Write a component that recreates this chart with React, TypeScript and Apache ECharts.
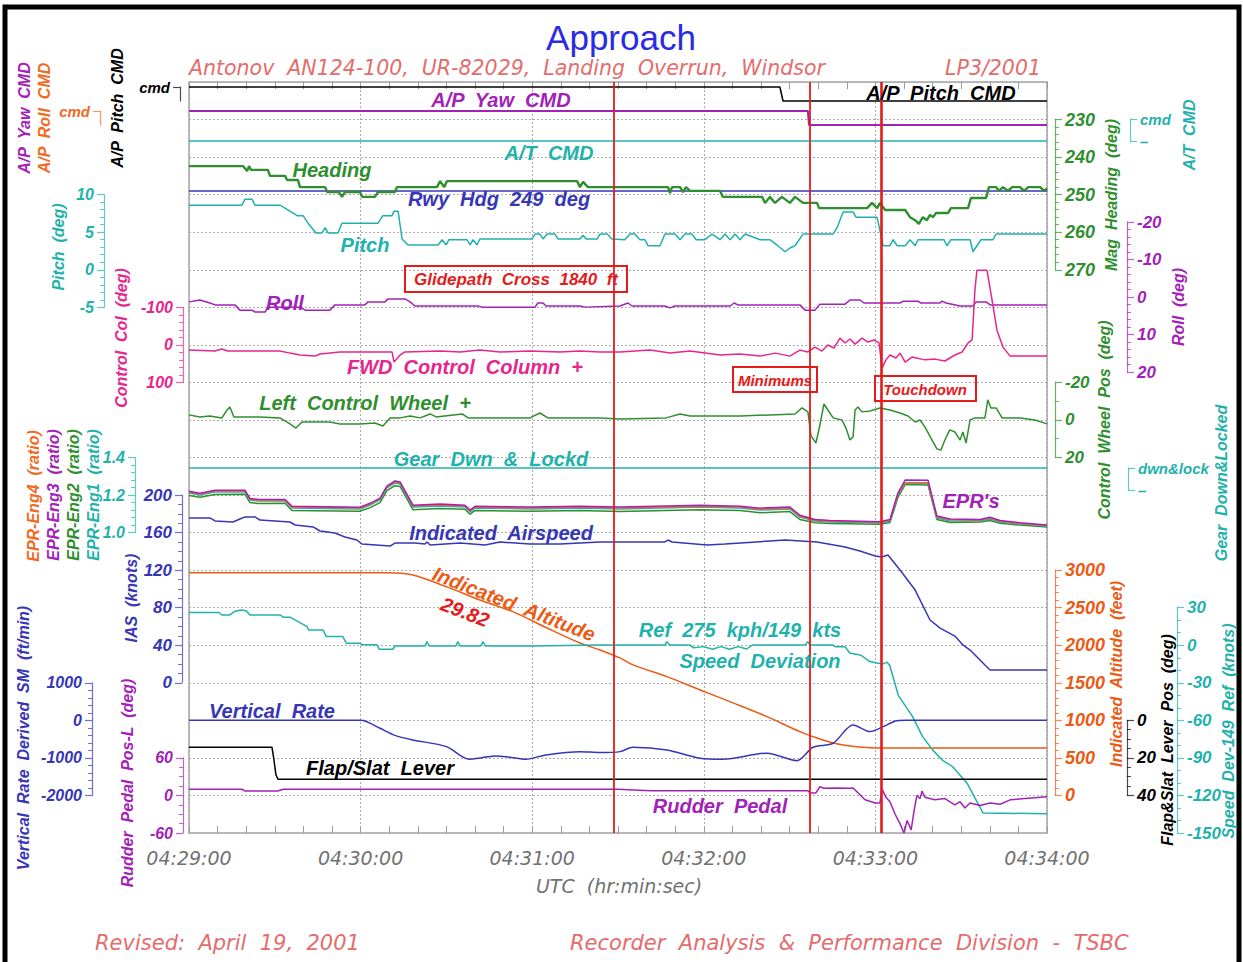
import React, { useEffect, useRef } from 'react';
import * as echarts from 'echarts';

// ---------------- data (time in seconds after 04:29:00) ----------------
const timeLabels = ['04:29:00', '04:30:00', '04:31:00', '04:32:00', '04:33:00', '04:34:00'];
const eventTimes = [148.4, 217.1, 242.0];
const eventNames = ['Glidepath  Cross  1840  ft', 'Minimums', 'Touchdown'];

const apPitchCmd = [[0, 1], [206.6, 1], [207.7, 0], [300, 0]];
const apYawCmd = [[0, 1], [216.4, 1], [216.8, 0], [300, 0]];
const apRollCmd = [[0, 1], [216.4, 1], [216.8, 0], [300, 0]];
const atCmd = [[0, 0], [300, 0]];
const rwyHdg = [[0, 249], [300, 249]];
const gearDown = [[0, 1], [300, 1]];

const heading = [[0, 242.4], [18.9, 242.4], [20.3, 243.7], [21, 242.4], [21.7, 243.4], [27.6, 243.4], [28.3, 245.0], [33.6, 245.0], [34.3, 246.1], [38.1, 246.1], [38.8, 248.0], [47.6, 248.0], [48.3, 249.3], [52.4, 249.3], [53.5, 250.6], [54.5, 249.3], [59.8, 249.3], [60.5, 250.6], [65, 250.6], [66.1, 249.3], [72, 249.3], [72.7, 248.0], [86.7, 248.0], [87.8, 246.4], [89.2, 248.0], [90.2, 246.4], [135.7, 246.4], [136.7, 248.0], [137.8, 246.6], [139.5, 248.0], [167.5, 248.0], [168.2, 249.6], [168.9, 248.0], [171.7, 248.0], [172.7, 249.3], [173.8, 248.0], [175.2, 249.0], [185.7, 249.0], [186.7, 250.6], [200.4, 250.6], [201.4, 252.2], [203.1, 250.6], [204.9, 252.2], [207.3, 250.6], [210.1, 252.2], [211.9, 250.6], [214.7, 252.2], [219.6, 252.2], [220.3, 253.6], [237.1, 253.6], [238.8, 252.2], [240.6, 253.6], [241.6, 252.2], [243.4, 254.1], [250.4, 254.1], [252.1, 256.0], [253.9, 256.8], [255.2, 257.8], [256.6, 256.0], [258, 256.8], [259.1, 255.4], [260.1, 256.0], [261.2, 254.9], [265.4, 254.9], [266.4, 253.6], [272.4, 253.6], [273.4, 250.9], [278.7, 250.9], [279.7, 248.0], [282.2, 248.0], [283.2, 249.0], [284.6, 248.0], [286.4, 249.0], [287.8, 248.0], [290.6, 248.0], [292, 249.0], [293.4, 248.0], [297.6, 248.0], [299, 249.0], [300, 248.3]];

const pitch = [[0, 8.6], [18.5, 8.6], [19.6, 9.4], [22, 9.4], [23.1, 8.6], [31.8, 8.6], [35.3, 7.8], [37.8, 7.2], [39.9, 7.2], [41.6, 6.2], [44.4, 4.9], [46.5, 4.9], [47.6, 5.6], [48.6, 4.9], [52.1, 4.9], [53.5, 6.2], [66.1, 6.2], [67.8, 7.2], [71, 7.2], [71.7, 7.8], [73.1, 7.8], [74.5, 4.1], [76.6, 3.3], [87.1, 3.3], [88.5, 4.0], [89.9, 3.3], [90.9, 4.0], [97.2, 4.0], [98.3, 3.3], [99.3, 4.0], [100.7, 3.3], [101.7, 4.1], [119.9, 4.1], [121, 4.75], [122.7, 4.75], [123.8, 4.1], [125.2, 4.75], [128, 4.75], [129, 4.1], [136.7, 4.1], [137.8, 4.6], [138.8, 4.1], [142.7, 4.1], [143.7, 4.75], [146.2, 4.75], [147.9, 4.1], [152.4, 4.0], [154.2, 4.75], [155.9, 4.75], [157.7, 4.0], [159.4, 4.0], [160.5, 3.2], [164.7, 3.2], [166.4, 4.75], [169.9, 4.75], [171.7, 4.0], [173.4, 4.75], [175.9, 4.75], [177.3, 4.0], [180.4, 4.0], [182.9, 4.75], [185.7, 4.0], [187.4, 4.75], [189.2, 4.0], [190.9, 4.75], [192.7, 4.0], [194.4, 4.75], [199.7, 4.0], [203.1, 4.0], [205.9, 3.2], [208.4, 2.4], [210.1, 2.9], [211.9, 3.2], [214.7, 4.75], [225.2, 4.75], [226.6, 5.6], [228.7, 7.7], [232.2, 7.7], [233.2, 7.0], [240.6, 7.0], [242.7, 3.2], [245.1, 3.2], [246.2, 4.0], [247.6, 3.2], [250.4, 3.2], [252.1, 4.0], [253.9, 3.2], [254.9, 4.0], [264, 4.0], [265, 3.2], [266.4, 4.0], [273.1, 4.0], [274.1, 2.4], [275.5, 3.2], [276.9, 4.0], [281.1, 4.0], [282.2, 4.75], [300, 4.75]];

const roll = [[0, 1.3], [3.8, 0.8], [7.3, 1.6], [9.1, 2.1], [16.1, 2.1], [17.8, 3.5], [22, 3.5], [23.1, 4], [26.6, 4], [27.6, 2.7], [38.8, 2.7], [40.6, 3.5], [49.3, 3.5], [51, 2.1], [61.5, 2.1], [62.6, 1.3], [68.5, 1.3], [69.6, 0.5], [75.5, 0.5], [77.3, 1.3], [79, 2.4], [101, 2.4], [102.4, 2.7], [121, 2.7], [122, 1.6], [123.8, 1.6], [124.8, 2.4], [136.7, 2.4], [138.5, 2.7], [150.7, 2.4], [153.5, 1.6], [154.9, 2.4], [166.4, 2.4], [168.2, 2.9], [169.9, 2.4], [189.2, 2.4], [190.6, 1.6], [191.9, 2.1], [213.6, 2.1], [215.4, 3.5], [218.9, 3.5], [220.6, 1.9], [229.4, 1.9], [231.1, 0.8], [234.6, 0.8], [236, 1.6], [248.6, 1.6], [249.7, 1.1], [254.9, 1.1], [255.9, 1.6], [262.6, 1.6], [263.3, 1.1], [264.7, 1.6], [269.6, 2.4], [274.1, 2.4], [275.2, 1.3], [278.7, 1.3], [280.1, 2.1], [300, 2.1]];

const ctrlColumn = [[0, 14], [9.1, 16.5], [11.5, 11], [13.6, 16.5], [31.8, 16.5], [35.3, 22], [38.8, 27], [44.1, 30], [45.8, 24.5], [52.8, 19], [71, 19], [71.7, 46], [73.8, 27], [75.5, 19], [87.8, 16.5], [94.8, 19], [101.7, 14], [108.7, 19], [119.2, 16.5], [129.7, 19], [136.7, 16.5], [143.7, 19], [150.7, 19], [161.2, 14], [168.2, 22], [175.2, 16.5], [185.7, 27], [192.7, 24.5], [199.7, 30], [204.9, 22], [210.1, 30], [213.6, 14], [216.4, 19], [218.9, 6], [221.3, 16.5], [223.4, 0.5], [225.5, 8.5], [227.6, -18], [229.4, -5], [231.1, -15.5], [232.9, -2], [235.3, -18], [237.4, -7.5], [239.5, -13], [241.3, -5], [242.3, 62], [243.7, 40], [245.1, 27], [247.2, 35], [248.6, 22], [250.4, 46], [252.8, 32.5], [257.3, 40], [260.8, 38], [264.3, 43], [267.8, 27], [270.3, 19], [272.4, -5], [273.8, -13], [274.8, -146], [275.5, -199], [279, -199], [280.8, -119], [282.5, -39], [284.6, 6], [287.1, 30], [300, 30]];

const ctrlWheel = [[0, -2.7], [3.8, -1.6], [7.3, -2.1], [11.5, -1.1], [13.3, -5.3], [14.3, -6.9], [15.7, -1.6], [24.8, -1.6], [31.8, -1.1], [35.3, 2.1], [37.4, 4.3], [39.5, 1.1], [49.3, 1.1], [52.8, 2.1], [59.8, 2.1], [65, 1.6], [67.8, 3.2], [70.3, -1.1], [73.8, -1.1], [77.3, -2.1], [80.8, -1.1], [84.3, -3.2], [86.4, -1.6], [95.5, -3.2], [97.6, -1.1], [119.2, -1.1], [122.7, -3.7], [125.5, -1.1], [143.7, -1.1], [150.7, -0.5], [166.8, -1.1], [171.7, -3.2], [175.2, -2.1], [192.7, -2.1], [203.1, -2.7], [211.9, -3.2], [214.3, -6.4], [216.4, -4.3], [217.5, 8.5], [219.2, 12.3], [220.6, 2.7], [222, -8.5], [223.4, -5.3], [225.2, -1.1], [228.3, 0], [229.7, 4.3], [231.1, 10.7], [232.2, 9], [232.9, -5.3], [233.9, -6.9], [235.3, -4.3], [238.1, -4.8], [241.6, -6.4], [245.1, -5.3], [248.6, -3.7], [251.4, -2.1], [253.9, 1.1], [255.6, 0], [257.3, 3.7], [259.8, 10.7], [261.5, 15.4], [262.9, 16], [264.3, 10.7], [266, 5.3], [267.8, 6.4], [269.6, 10.7], [270.6, 6.4], [271.7, 12.3], [273.1, 0], [274.8, -1.1], [278.3, -1.1], [279.3, -10.7], [280.4, -6.4], [282.2, -6.4], [284.3, -1.1], [290.6, -1.1], [295.8, 0], [300, 2.1]];

const eprTime = [0, 3.8, 9.1, 19.6, 21.3, 24.1, 33.6, 36, 59.8, 63.3, 66.8, 69.2, 72, 73.8, 78.3, 87.8, 96.5, 98.3, 100, 119.2, 136.7, 150.7, 178.7, 192.7, 199.7, 210.1, 213.6, 218.9, 224.1, 241.6, 245.1, 247.9, 250.4, 258.4, 261.5, 266.1, 276.6, 280.1, 283.6, 290.6, 300];
const eprEng1 = [1.211, 1.200, 1.216, 1.216, 1.174, 1.168, 1.168, 1.131, 1.126, 1.147, 1.174, 1.238, 1.264, 1.259, 1.136, 1.142, 1.136, 1.110, 1.131, 1.126, 1.131, 1.126, 1.136, 1.131, 1.120, 1.126, 1.083, 1.062, 1.056, 1.051, 1.062, 1.200, 1.262, 1.262, 1.078, 1.062, 1.062, 1.072, 1.056, 1.046, 1.035];
const eprEng2 = [1.198, 1.188, 1.203, 1.204, 1.160, 1.155, 1.156, 1.118, 1.114, 1.133, 1.160, 1.224, 1.250, 1.246, 1.122, 1.128, 1.124, 1.098, 1.118, 1.114, 1.118, 1.112, 1.122, 1.118, 1.106, 1.112, 1.070, 1.052, 1.048, 1.044, 1.054, 1.188, 1.256, 1.254, 1.070, 1.054, 1.056, 1.064, 1.050, 1.040, 1.030];
const eprEng3 = [1.220, 1.210, 1.226, 1.225, 1.182, 1.177, 1.176, 1.140, 1.135, 1.156, 1.184, 1.248, 1.275, 1.270, 1.146, 1.152, 1.146, 1.120, 1.140, 1.136, 1.141, 1.136, 1.146, 1.140, 1.130, 1.136, 1.092, 1.070, 1.064, 1.058, 1.070, 1.212, 1.280, 1.279, 1.088, 1.072, 1.070, 1.082, 1.064, 1.052, 1.040];
const eprEng4 = [1.216, 1.206, 1.222, 1.221, 1.178, 1.172, 1.173, 1.136, 1.131, 1.152, 1.180, 1.244, 1.270, 1.266, 1.142, 1.147, 1.142, 1.115, 1.136, 1.131, 1.137, 1.131, 1.141, 1.136, 1.125, 1.131, 1.088, 1.066, 1.060, 1.055, 1.066, 1.205, 1.266, 1.266, 1.083, 1.068, 1.066, 1.078, 1.060, 1.049, 1.038];

const airspeed = [[0, 175.6], [7.3, 175.6], [9.1, 172.4], [15.4, 171.3], [17.8, 174.5], [19.6, 176.7], [23.1, 176.7], [24.8, 173.4], [35.3, 171.3], [37.1, 168.1], [43.4, 166], [45.8, 161.7], [51, 159.5], [54.5, 155.3], [58.7, 152.1], [60.5, 147.8], [70.3, 145.7], [72, 148.9], [79, 148.9], [82.5, 147.8], [83.2, 150], [84.3, 146.8], [94.8, 148.9], [103.5, 146.8], [108.7, 150], [119.2, 147.8], [129.7, 147.8], [143.7, 150], [166.4, 150], [167.5, 152.1], [168.9, 150], [181.1, 146.8], [187.4, 147.8], [208.4, 152.1], [219.6, 150], [229.4, 144.7], [234.6, 140.4], [239.9, 135], [242.3, 134], [244.4, 136.1], [248.6, 120.1], [253.9, 98.8], [259.1, 66.9], [262.6, 58.3], [267.8, 49.8], [270.6, 40.3], [273.1, 34.9], [278.3, 18.9], [280.1, 13.6], [300, 13.6]];

const altitude = [[0, 2967], [40, 2967], [69.2, 2967], [78.3, 2936], [90, 2780], [101.7, 2603], [113.2, 2447], [125.2, 2230], [136.7, 2030], [143.7, 1937], [150.7, 1831], [155.2, 1738], [167.1, 1582], [178.7, 1405], [190.2, 1232], [202.1, 1049], [213.6, 850], [219.6, 766], [225.2, 699], [231.1, 659], [241.6, 632], [300, 632]];

const speedDev = [[0, 26.2], [10.5, 26.2], [11.5, 24.2], [14.3, 24.2], [16, 27], [18, 28.2], [20, 27.5], [21.3, 24.2], [31.8, 24.2], [33, 22.4], [35.3, 22.4], [41.3, 14.9], [41.8, 12.2], [46.9, 12.2], [48, 6.9], [53.8, 6.9], [55, 1.6], [59.8, 1.6], [60.5, 0.3], [65.7, 0.3], [66.5, -3.2], [71.3, -3.2], [72, -0.6], [82.5, -0.6], [83.2, 2.9], [84, -0.6], [93.3, -0.6], [94, 2.9], [94.8, -0.6], [102, -0.6], [102.8, 2.9], [103.6, -0.6], [120, -0.6], [143.7, 0.2], [166.4, 0.2], [167.1, 2.9], [168, 0.2], [175, 0.2], [176.5, -2], [180, -1.1], [183, -3.2], [186, -1.1], [189, -3.2], [192, -1.1], [195, -3], [197, 0.2], [215.5, 0.2], [216.3, 2.9], [217.2, 0.2], [225, 0.2], [226, -1.1], [229.4, -1.1], [231, -6.2], [235, -8], [238, -13], [240.6, -14.2], [242.7, -14.9], [244, -13.5], [245, -16], [248, -40], [253, -57], [256.5, -73], [260, -83.6], [263.5, -92], [267, -97], [272, -110], [277.6, -134], [300, -134.6]];

const vertRate = [[0, 0], [59.8, 0], [62, -30], [66.8, -211], [72, -400], [78.3, -522], [90, -700], [98, -1035], [102, -1000], [107.3, -947], [112, -980], [117.8, -1035], [124.8, -921], [136.7, -833], [143.7, -859], [150.7, -833], [155.2, -716], [167.1, -788], [178.7, -1009], [186.7, -1035], [202.1, -876], [212.5, -1073], [218.2, -716], [225.2, -610], [232.2, -122], [238.1, -300], [242.7, -168], [247.6, -8], [251, 0], [300, 0]];

const flapLever = [[0, 14.3], [29, 14.3], [29.6, 20], [30.4, 29], [31.1, 31.4], [300, 31.4]];

const rudderPedal = [[0, 9.9], [18.5, 9.9], [19.5, 7.2], [31, 7.2], [33, 9.9], [150, 9.9], [161.5, 7.7], [216.4, 7.7], [217.1, 4], [219.2, 4], [220.6, 14], [222, 11.5], [226, 12], [231.1, 11.5], [232.2, 12], [236.4, -7], [239.9, -12], [241.6, -12], [242.3, 10], [243.7, -3], [245.1, -10], [246.9, -30], [248.6, -45], [250, -60], [251.1, -40], [252.5, -55], [253.5, -25], [254.5, 0], [255.6, -5], [256.3, 7], [257.3, -3], [260.8, -7], [264.3, -5], [267.8, -15], [269.6, -10], [271.3, -20], [273.1, -12], [276.6, -16], [280.1, -12], [283.6, -14], [287.1, -7], [292.3, -5], [300, -2]];

// ---------------- styles ----------------
const SANS = '"Liberation Sans", Arial, Helvetica, sans-serif';
const THIN = '"DejaVu Sans", "Liberation Sans", sans-serif';
const C = {
  purple: '#a222b8', orange: '#f26a22', alt: '#ec5a14', cyan: '#1fb2ad', green: '#2f8f2f',
  blue: '#3636b6', pink: '#e6268e', red: '#e51b1b', black: '#000000', salmon: '#e46c6c', gray: '#707070',
};
const PL = 189, PR = 1047, PT = 82, PB = 833, PW = PR - PL, BAND = (PB - PT) / 20;
const bandTop = (k: number) => PB - BAND * k;

function buildOption() {
  const grid: any[] = [];
  const xAxis: any[] = [];
  const yAxis: any[] = [];
  const series: any[] = [];

  const tickGray = '#9c9c9c';
  grid.push({ left: PL, top: PT, width: PW, height: PB - PT, show: true, borderColor: '#a4a4a4', borderWidth: 1.5, backgroundColor: 'rgba(0,0,0,0)' });
  const xTick = { show: true, inside: true, length: 7, lineStyle: { color: tickGray, width: 1 } };
  const xMinor = { show: true, splitNumber: 6, length: 7, lineStyle: { color: tickGray, width: 1 } };
  xAxis.push({
    gridIndex: 0, type: 'value', position: 'bottom', min: 0, max: 300, interval: 60,
    axisLine: { show: false, onZero: false }, axisTick: xTick, minorTick: xMinor,
    splitLine: { show: true, lineStyle: { color: '#ababab', width: 1, type: [2, 2] } },
    axisLabel: {
      show: true, margin: 15, color: C.gray, fontSize: 19, fontStyle: 'italic', fontWeight: 300, fontFamily: THIN,
      formatter: (v: number) => timeLabels[Math.round(v / 60)] || '',
    },
  });
  xAxis.push({
    gridIndex: 0, type: 'value', position: 'top', min: 0, max: 300, interval: 60,
    axisLine: { show: false, onZero: false }, axisTick: xTick, minorTick: xMinor, splitLine: { show: false }, axisLabel: { show: false },
  });
  yAxis.push({
    gridIndex: 0, type: 'value', min: 0, max: 20, interval: 1,
    axisLine: { show: false, onZero: false }, axisTick: { show: false }, axisLabel: { show: false },
    splitLine: { show: true, lineStyle: { color: '#ababab', width: 1, type: [2, 2] } },
  });

  function panel(p: any) {
    const gi = grid.length;
    grid.push({ left: PL, width: PW, top: p.top, height: p.height, show: false });
    const xi = xAxis.length;
    xAxis.push({ gridIndex: gi, type: 'value', min: 0, max: 300, show: false, axisLine: { onZero: false } });
    const yi = yAxis.length;
    const label: any = {
      show: true, margin: p.margin || 10, color: p.color, fontSize: p.fontSize || 17,
      fontStyle: 'italic', fontWeight: 'bold', fontFamily: SANS,
      formatter: p.fmt || ((v: number) => String(v)),
    };
    yAxis.push({
      gridIndex: gi, type: 'value', position: p.side, offset: p.offset,
      min: p.min, max: p.max, interval: p.interval, inverse: !!p.inverse,
      axisLine: { show: true, onZero: false, lineStyle: { color: p.color, width: 1.2, opacity: 0.7 } },
      axisTick: { show: true, length: 7, lineStyle: { color: p.color, width: 1.2, opacity: 0.7 } },
      minorTick: { show: !!p.minor, splitNumber: p.minor || 5, length: 4, lineStyle: { color: p.color, opacity: 0.7 } },
      splitLine: { show: false },
      axisLabel: label,
    });
    return { xAxisIndex: xi, yAxisIndex: yi };
  }
  const bracket = (top: string) => (v: number) => (v >= 1 ? top : '–');

  const pPitchCmd = panel({ top: 87, height: 14, side: 'left', offset: PL - 180, min: 0, max: 1, interval: 1, color: C.black, fmt: bracket('cmd'), fontSize: 15 });
  const pRollCmd = panel({ top: 111, height: 14, side: 'left', offset: PL - 100, min: 0, max: 1, interval: 1, color: C.orange, fmt: bracket('cmd'), fontSize: 15 });
  const pAtCmd = panel({ top: 119, height: 22, side: 'right', offset: 1130 - PR, min: 0, max: 1, interval: 1, color: C.cyan, fmt: bracket('cmd'), fontSize: 15 });
  const pHdg = panel({ top: bandTop(19), height: BAND * 4, side: 'right', offset: 8, min: 230, max: 270, interval: 10, inverse: true, color: C.green, minor: 5, fontSize: 18 });
  const pPitch = panel({ top: bandTop(17), height: BAND * 3, side: 'left', offset: PL - 104, min: -5, max: 10, interval: 5, color: C.cyan, minor: 5, fontSize: 16 });
  const pRoll = panel({ top: 222, height: 150, side: 'right', offset: 1127 - PR, min: -20, max: 20, interval: 10, inverse: true, color: C.purple, minor: 5, fontSize: 17 });
  const pCol = panel({ top: bandTop(14), height: BAND * 2, side: 'left', offset: PL - 183, min: -100, max: 100, interval: 100, inverse: true, color: C.pink, minor: 5, fontSize: 16 });
  const pWheel = panel({ top: bandTop(12), height: BAND * 2, side: 'right', offset: 8, min: -20, max: 20, interval: 20, inverse: true, color: C.green, minor: 2, fontSize: 17 });
  const pGear = panel({ top: 468, height: 22, side: 'right', offset: 1128 - PR, min: 0, max: 1, interval: 1, color: C.cyan, fmt: bracket('dwn&lock'), fontSize: 15 });
  const pEpr = panel({ top: bandTop(10), height: BAND * 2, side: 'left', offset: PL - 135, min: 1.0, max: 1.4, interval: 0.2, color: C.cyan, minor: 5, fontSize: 16, fmt: (v: number) => v.toFixed(1) });
  const pIas = panel({ top: bandTop(9), height: BAND * 5, side: 'left', offset: PL - 182, min: 0, max: 200, interval: 40, color: C.blue, minor: 4, fontSize: 17 });
  const pAlt = panel({ top: bandTop(7), height: BAND * 6, side: 'right', offset: 8, min: 0, max: 3000, interval: 500, color: C.alt, minor: 5, fontSize: 18 });
  const pSpd = panel({ top: bandTop(6), height: BAND * 6, side: 'right', offset: 1177 - PR, min: -150, max: 30, interval: 30, color: C.cyan, minor: 3, fontSize: 17 });
  const pVr = panel({ top: bandTop(4), height: BAND * 3, side: 'left', offset: PL - 92, min: -2000, max: 1000, interval: 1000, color: C.blue, minor: 5, fontSize: 16 });
  const pFlap = panel({ top: bandTop(3), height: BAND * 2, side: 'right', offset: 1127 - PR, min: 0, max: 40, interval: 20, inverse: true, color: C.black, minor: 4, fontSize: 17 });
  const pRud = panel({ top: bandTop(2), height: BAND * 2, side: 'left', offset: PL - 183, min: -60, max: 60, interval: 60, color: C.purple, minor: 4, fontSize: 16 });

  function line(data: any[], idx: any, color: string, width = 1.5, extra: any = {}) {
    series.push({
      type: 'line', data, ...idx, showSymbol: false, symbol: 'none', clip: false, silent: true,
      lineStyle: { color, width }, itemStyle: { color }, z: 3, ...extra,
    });
  }
  const zip = (t: number[], v: number[]) => t.map((x, i) => [x, v[i]]);

  line(apRollCmd, pRollCmd, C.orange);
  line(apYawCmd, pRollCmd, C.purple, 2);
  line(apPitchCmd, pPitchCmd, C.black);
  line(atCmd, pAtCmd, C.cyan);
  line(rwyHdg, pHdg, C.blue);
  line(heading, pHdg, C.green, 2.4);
  line(pitch, pPitch, C.cyan);
  line(roll, pRoll, C.purple);
  line(ctrlColumn, pCol, C.pink);
  line(ctrlWheel, pWheel, C.green);
  line(gearDown, pGear, C.cyan);
  line(zip(eprTime, eprEng2), pEpr, C.green);
  line(zip(eprTime, eprEng1), pEpr, C.cyan);
  line(zip(eprTime, eprEng4), pEpr, C.orange);
  line(zip(eprTime, eprEng3), pEpr, C.purple);
  line(airspeed, pIas, C.blue);
  line(altitude, pAlt, C.alt, 1.5, { smooth: 0.3 });
  line(speedDev, pSpd, C.cyan);
  line(vertRate, pVr, C.blue, 1.5, { smooth: 0.3 });
  line(flapLever, pFlap, C.black);
  line(rudderPedal, pRud, C.purple);

  series.push({
    type: 'line', xAxisIndex: 0, yAxisIndex: 0, data: [], silent: true, z: 6,
    markLine: {
      silent: true, symbol: ['none', 'none'], label: { show: false },
      data: eventTimes.map((t, i) => ({ xAxis: t, lineStyle: { color: C.red, width: i === 2 ? 2.6 : 1.8, type: 'solid' } })),
    },
  });

  const txt = (text: string, x: number, y: number, fill: string, size: number, o: any = {}) => ({
    type: 'text', x, y, rotation: o.rot || 0, silent: true, z: 10,
    style: {
      text, fill, fontSize: size, fontFamily: o.family || SANS, fontStyle: o.style || 'italic',
      fontWeight: o.weight || 'bold', align: o.align || 'center', verticalAlign: 'middle',
    },
  });
  const V = Math.PI / 2;
  const vt = (text: string, x: number, y: number, fill: string, size = 16) => txt(text, x, y, fill, size, { rot: V });
  const box = (x: number, y: number, w: number, h: number) => ({
    type: 'rect', silent: true, z: 9, shape: { x, y, width: w, height: h },
    style: { fill: 'rgba(255,255,255,0)', stroke: C.red, lineWidth: 2 },
  });
  const thin = { family: THIN, weight: 300 };

  const graphic: any[] = [
    { type: 'rect', silent: true, z: 1, shape: { x: 5, y: 7, width: 1234, height: 1000 }, style: { fill: 'none', stroke: '#000', lineWidth: 5 } },
    txt('Approach', 621, 37, '#2b2be4', 35, { style: 'normal', weight: 'normal' }),
    txt('Antonov  AN124-100,  UR-82029,  Landing  Overrun,  Windsor', 189, 68, C.salmon, 20.5, { ...thin, align: 'left' }),
    txt('LP3/2001', 1041, 68, C.salmon, 20.5, { ...thin, align: 'right' }),
    txt('UTC  (hr:min:sec)', 619, 886, C.gray, 19, thin),
    txt('Revised:  April  19,  2001', 95, 943, C.salmon, 21, { ...thin, align: 'left' }),
    txt('Recorder  Analysis  &  Performance  Division  -  TSBC', 570, 943, C.salmon, 21, { ...thin, align: 'left' }),

    vt('A/P  Yaw  CMD', 24, 118, C.purple),
    vt('A/P  Roll  CMD', 44, 118, C.orange),
    vt('A/P  Pitch  CMD', 117, 108, C.black),
    vt('Pitch  (deg)', 58, 247, C.cyan),
    vt('Control  Col  (deg)', 121, 338, C.pink),
    vt('EPR-Eng4  (ratio)', 33, 496, C.orange),
    vt('EPR-Eng3  (ratio)', 53, 495, C.purple),
    vt('EPR-Eng2  (ratio)', 73, 495, C.green),
    vt('EPR-Eng1  (ratio)', 93, 495, C.cyan),
    vt('IAS  (knots)', 131, 598, C.blue),
    vt('Vertical  Rate  Derived  SM  (ft/min)', 23, 738, C.blue),
    vt('Rudder  Pedal  Pos-L  (deg)', 127, 783, C.purple),
    vt('A/T  CMD', 1189, 135, C.cyan),
    vt('Mag  Heading  (deg)', 1111, 195, C.green),
    vt('Roll  (deg)', 1178, 307, C.purple),
    vt('Control  Wheel  Pos  (deg)', 1104, 420, C.green),
    vt('Gear  Down&Locked', 1221, 483, C.cyan),
    vt('Indicated  Altitude  (feet)', 1116, 674, C.alt),
    vt('Flap&Slat  Lever  Pos  (deg)', 1167, 740, C.black),
    vt('Speed  Dev-149  Ref  (knots)', 1228, 731, C.cyan),

    txt('A/P  Yaw  CMD', 501, 100, C.purple, 20),
    txt('A/P  Pitch  CMD', 941, 93, C.black, 20),
    txt('A/T  CMD', 549, 153, C.cyan, 20),
    txt('Heading', 332, 170, C.green, 20),
    txt('Rwy  Hdg  249  deg', 499, 199, C.blue, 20),
    txt('Pitch', 365, 245, C.cyan, 20),
    txt('Roll', 285, 303, C.purple, 20),
    txt('FWD  Control  Column  +', 465, 367, C.pink, 20),
    txt('Left  Control  Wheel  +', 365, 403, C.green, 20),
    txt('Gear  Dwn  &  Lockd', 491, 459, C.cyan, 20),
    txt("EPR's", 971, 501, C.purple, 20),
    txt('Indicated  Airspeed', 501, 533, C.blue, 20),
    txt('Indicated  Altitude', 514, 604, C.alt, 20, { rot: -0.37 }),
    txt('29.82', 465, 612, C.red, 20, { rot: -0.37 }),
    txt('Ref  275  kph/149  kts', 740, 630, C.cyan, 20),
    txt('Speed  Deviation', 760, 661, C.cyan, 20),
    txt('Vertical  Rate', 272, 711, C.blue, 20),
    txt('Flap/Slat  Lever', 380, 768, C.black, 20),
    txt('Rudder  Pedal', 720, 806, C.purple, 20),

    box(405, 266, 222, 26), txt(eventNames[0], 516, 279, C.red, 17),
    box(733, 367, 84, 25), txt(eventNames[1], 775, 380, C.red, 15),
    box(875, 376, 101, 25), txt(eventNames[2], 925, 389, C.red, 15),
  ];

  return { animation: false, backgroundColor: '#ffffff', grid, xAxis, yAxis, series, graphic };
}

export default function App() {
  const ref = useRef<HTMLDivElement>(null);
  useEffect(() => {
    document.body.style.margin = '0';
    const chart = echarts.init(ref.current as HTMLDivElement, undefined, { renderer: 'svg', width: 1243, height: 962 });
    chart.setOption(buildOption() as any);
    return () => chart.dispose();
  }, []);
  return <div ref={ref} style={{ width: 1243, height: 962, background: '#fff' }} />;
}
